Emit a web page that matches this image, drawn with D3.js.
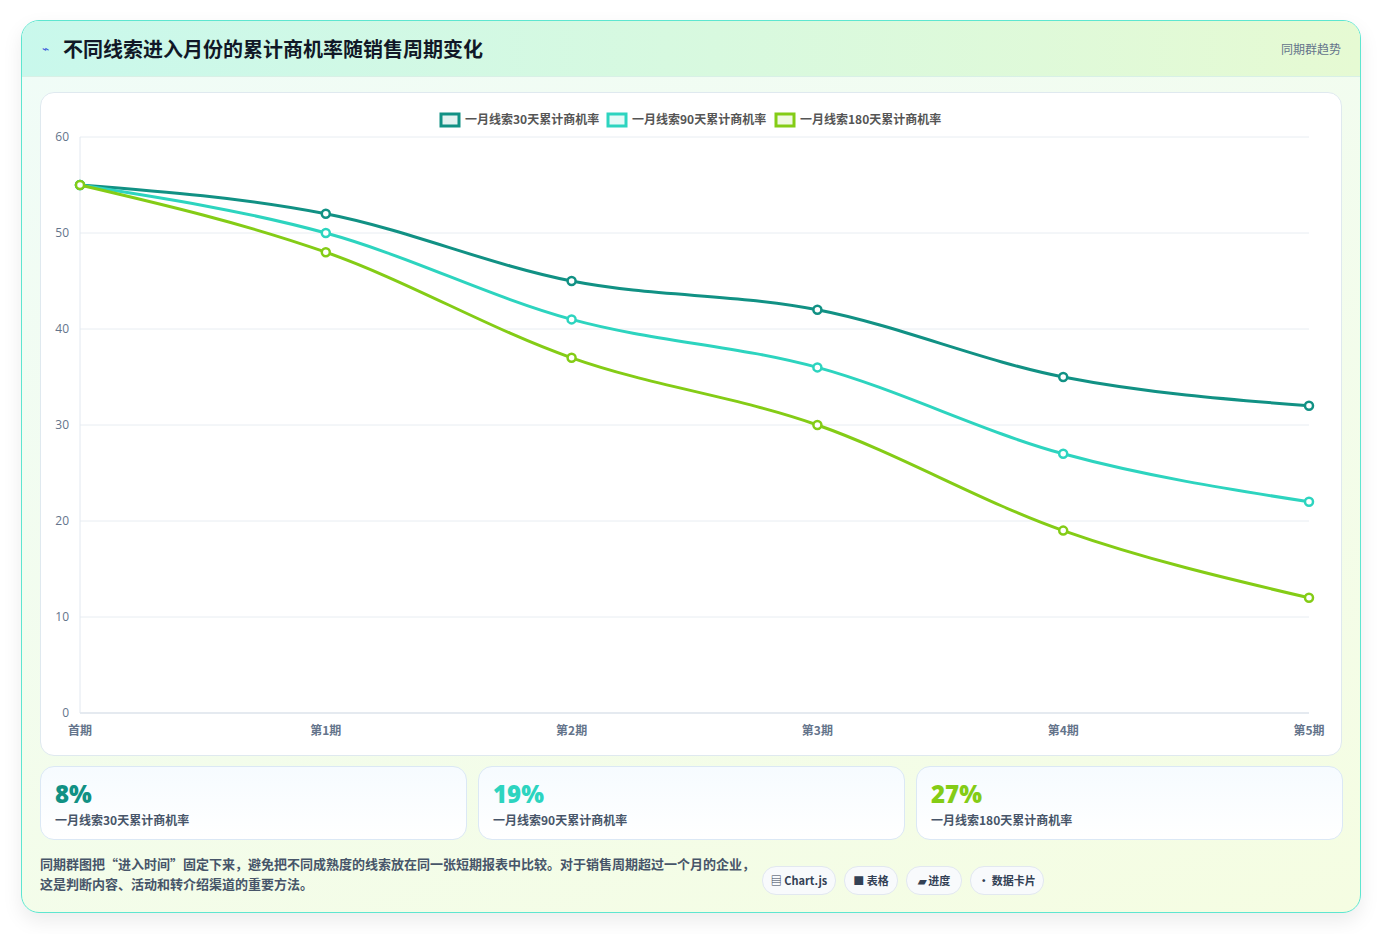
<!DOCTYPE html>
<html><head><meta charset="utf-8">
<script src="https://cdn.jsdelivr.net/npm/d3@7"></script>
<style>
body{margin:0;background:#fff;font-family:"Noto Sans CJK SC","Noto Sans",sans-serif;}
.card{position:absolute;left:21px;top:20px;width:1338px;height:891px;border:1px solid #5ee6d0;border-radius:18px;overflow:hidden;
 background:linear-gradient(160deg,#f0fcf8,#f5fde2);box-shadow:0 8px 20px rgba(0,0,0,0.08);}
.head{height:55px;background:linear-gradient(90deg,#c9f8ec,#e6fad3);border-bottom:1px solid #d8f0e6;position:relative;}
.head h1{position:absolute;left:41px;top:13px;margin:0;font-size:20px;font-weight:700;color:#111827;}
.head .ic{position:absolute;left:20px;top:18px;font-size:12px;color:#3b5bdb;}
.head .tag{position:absolute;right:19px;top:19px;font-size:12px;color:#64748b;}
.panel{position:absolute;left:18px;top:71px;width:1300px;height:662px;background:#fff;border:1px solid #dfe9ef;border-radius:14px;}
.stat{position:absolute;top:745px;width:425px;height:72px;border:1px solid #dbe8f5;border-radius:14px;background:linear-gradient(180deg,#f6fbff,#fff);}
.stat b{position:absolute;left:14px;top:10px;font-family:"Open Sans",sans-serif;font-size:24px;font-weight:800;}
.stat span{position:absolute;left:14px;top:44px;font-size:12px;color:#475569;font-weight:600;}
.note{position:absolute;left:18px;top:833px;font-size:13px;color:#475569;line-height:20px;font-weight:600;}
.pill{position:absolute;top:845px;height:27px;border:1px solid #e2e8f0;border-radius:14px;background:#f8fafc;font-size:11px;font-weight:700;color:#334155;line-height:27px;text-align:center;}
</style></head><body>
<div class="card">
 <div class="head"><span class="ic">⌁</span><h1>不同线索进入月份的累计商机率随销售周期变化</h1><span class="tag">同期群趋势</span></div>
 <div class="panel"></div>
 <div id="stats"></div>
 <div class="note">同期群图把“进入时间”固定下来，避免把不同成熟度的线索放在同一张短期报表中比较。对于销售周期超过一个月的企业，<br>这是判断内容、活动和转介绍渠道的重要方法。</div>
 <div class="pill" style="left:740px;width:72px">▤ Chart.js</div>
 <div class="pill" style="left:822px;width:52px">■ 表格</div>
 <div class="pill" style="left:884px;width:54px">▰ 进度</div>
 <div class="pill" style="left:948px;width:72px">• 数据卡片</div>
</div>
<svg id="chart" width="1381" height="934" style="position:absolute;left:0;top:0;pointer-events:none"></svg>
<script>
const periods=["首期","第1期","第2期","第3期","第4期","第5期"];
const seriesNames=["一月线索30天累计商机率","一月线索90天累计商机率","一月线索180天累计商机率"];
const colors=["#119184","#2dd4bf","#84cc16"];
const s30=[55,52,45,42,35,32];
const s90=[55,50,41,36,27,22];
const s180=[55,48,37,30,19,12];
const statValues=["8%","19%","27%"];
const yTicks=[0,10,20,30,40,50,60];

const stats=d3.select("#stats");
statValues.forEach((v,i)=>{
  const d=stats.append("div").attr("class","stat").style("left",(18+i*438)+"px");
  d.append("b").style("color",colors[i]).text(v);
  d.append("span").text(seriesNames[i]);
});

const svg=d3.select("#chart");
const x=d3.scalePoint().domain(periods).range([80,1309]);
const y=d3.scaleLinear().domain([0,60]).range([713,137]);
const g=svg.append("g");
g.selectAll(".grid").data(yTicks).join("line").attr("x1",80).attr("x2",1309)
 .attr("y1",d=>y(d)).attr("y2",d=>y(d)).attr("stroke",d=>d===0?"#cbd5e1":"#e8edf2");
g.append("line").attr("x1",80).attr("x2",80).attr("y1",137).attr("y2",713).attr("stroke","#e2e8f0");
g.selectAll(".yt").data(yTicks).join("text").attr("x",69).attr("y",d=>y(d)+4).attr("text-anchor","end")
 .attr("font-size",12).attr("fill","#64748b").attr("font-family","Open Sans").text(d=>d);
g.selectAll(".xt").data(periods).join("text").attr("x",d=>x(d)).attr("y",735).attr("text-anchor","middle")
 .attr("font-size",12).attr("font-weight",600).attr("fill","#64748b").text(d=>d);
const line=d3.line().x((d,i)=>x(periods[i])).y(d=>y(d)).curve(d3.curveMonotoneX);
[s30,s90,s180].forEach((s,k)=>{
  g.append("path").attr("d",line(s)).attr("fill","none").attr("stroke",colors[k]).attr("stroke-width",3);
  g.selectAll(".p"+k).data(s).join("circle").attr("cx",(d,i)=>x(periods[i])).attr("cy",d=>y(d)).attr("r",4)
   .attr("fill","#fff").attr("stroke",colors[k]).attr("stroke-width",2.5);
});
const legX=[441,608,776];
seriesNames.forEach((n,i)=>{
  g.append("rect").attr("x",legX[i]).attr("y",114).attr("width",18).attr("height",12)
   .attr("fill",d3.color(colors[i]).copy({opacity:0.12})).attr("stroke",colors[i]).attr("stroke-width",3);
  g.append("text").attr("x",legX[i]+24).attr("y",124).attr("font-size",12).attr("font-weight",600).attr("fill","#555").text(n);
});
</script></body></html>
